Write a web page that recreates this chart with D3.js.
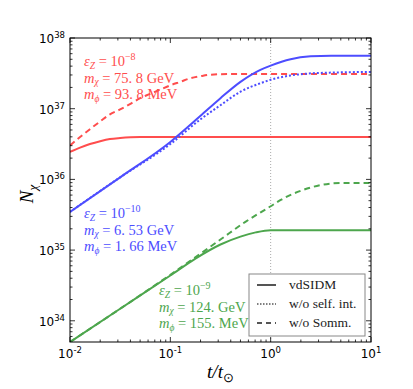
<!DOCTYPE html>
<html>
<head>
<meta charset="utf-8">
<script src="https://cdn.jsdelivr.net/npm/d3@7"></script>
<style>
  body { margin: 0; background: #fff; }
  svg { display: block; }
</style>
</head>
<body>
<div id="chart"></div>
<script>
// (t in units of t_sun, N_chi)
var redT      = [0.01, 0.0126, 0.0158, 0.02, 0.025, 0.0316, 0.04, 0.05, 0.1, 1, 10];
var redSolid  = [2.45e36, 2.82e36, 3.16e36, 3.47e36, 3.72e36, 3.85e36, 3.94e36, 3.98e36, 3.98e36, 3.98e36, 3.98e36];
var redDashT  = [0.01, 0.0126, 0.0158, 0.02, 0.025, 0.0316, 0.04, 0.05, 0.063, 0.079, 0.1, 0.126, 0.158, 0.2, 0.25, 0.4, 1, 10];
var redDash   = [3.02e36, 3.98e36, 5.13e36, 6.61e36, 8.32e36, 9.77e36, 1.17e37, 1.41e37, 1.62e37, 1.86e37, 2.14e37, 2.40e37, 2.69e37, 2.88e37, 3.02e37, 3.09e37, 3.09e37, 3.09e37];

var blueT      = [0.01, 0.0316, 0.1, 0.2, 0.316, 0.5, 0.79, 1, 1.58, 2.5, 4, 10];
var blueSolid  = [3.47e35, 1.07e36, 3.39e36, 7.94e36, 1.41e37, 2.40e37, 3.55e37, 4.07e37, 5.01e37, 5.50e37, 5.62e37, 5.62e37];
var blueDotted = [3.47e35, 1.07e36, 3.16e36, 7.08e36, 1.12e37, 1.74e37, 2.29e37, 2.57e37, 2.95e37, 3.16e37, 3.24e37, 3.31e37];

var greenT     = [0.01, 0.0316, 0.1, 0.178, 0.316, 0.5, 0.71, 1, 10];
var greenSolid = [5.01e33, 1.48e34, 4.37e34, 7.59e34, 1.20e35, 1.55e35, 1.78e35, 1.91e35, 1.91e35];
var greenDashT = [0.01, 0.0316, 0.1, 0.316, 0.56, 1, 1.26, 2, 3.16, 5, 10];
var greenDash  = [5.01e33, 1.48e34, 4.47e34, 1.41e35, 2.51e35, 4.17e35, 5.13e35, 6.92e35, 8.32e35, 8.91e35, 8.91e35];

var xTickExp = [-2, -1, 0, 1];
var yTickExp = [34, 35, 36, 37, 38];
var legendLabels = ["vdSIDM", "w/o self. int.", "w/o Somm."];

var w = 413, h = 389;
var pLeft = 70, pRight = 371, pTop = 38, pBottom = 342;

var red = "#ff4d4d", blue = "#4d4dff", green = "#4da64d";
var serif = "Liberation Serif, serif";

var svg = d3.select("#chart").append("svg")
    .attr("width", w)
    .attr("height", h);

var x = d3.scaleLog().domain([0.01, 10]).range([pLeft, pRight]);
var y = d3.scaleLog().domain([Math.pow(10, 33.7), 1e38]).range([pBottom, pTop]);

svg.append("defs").append("clipPath").attr("id", "clip")
  .append("rect").attr("x", pLeft).attr("y", pTop)
  .attr("width", pRight - pLeft).attr("height", pBottom - pTop);

// vertical line at t = t_sun
svg.append("line")
    .attr("x1", x(1)).attr("x2", x(1))
    .attr("y1", pTop).attr("y2", pBottom)
    .attr("stroke", "#aaa")
    .attr("stroke-width", 1)
    .attr("stroke-dasharray", "1,2");

var line = d3.line()
    .x(function(d) { return x(d[0]); })
    .y(function(d) { return y(d[1]); })
    .curve(d3.curveMonotoneX);

function drawSeries(ts, vals, color, dash) {
  svg.append("path")
    .datum(d3.zip(ts, vals))
    .attr("clip-path", "url(#clip)")
    .attr("fill", "none")
    .attr("stroke", color)
    .attr("stroke-width", 2)
    .attr("stroke-dasharray", dash)
    .attr("d", line);
}

drawSeries(redT, redSolid, red, null);
drawSeries(redDashT, redDash, red, "6,4");
drawSeries(blueT, blueDotted, blue, "2,2");
drawSeries(blueT, blueSolid, blue, null);
drawSeries(greenDashT, greenDash, green, "6,4");
drawSeries(greenT, greenSolid, green, null);

// ticks (inside, all four sides)
var xMajor = xTickExp.map(function(e) { return Math.pow(10, e); });
var xMinor = [];
for (var e = -2; e < 1; e++) for (var k = 2; k < 10; k++) xMinor.push(k * Math.pow(10, e));
var yMinor = [];
for (var e = 33; e < 38; e++) for (var k = 2; k < 10; k++) {
  var v = k * Math.pow(10, e);
  if (v > Math.pow(10, 33.7)) yMinor.push(v);
}

var ticks = svg.append("g").attr("stroke", "#000").attr("stroke-width", 0.8);
xMajor.forEach(function(v) {
  ticks.append("line").attr("x1", x(v)).attr("x2", x(v)).attr("y1", pBottom).attr("y2", pBottom - 5);
  ticks.append("line").attr("x1", x(v)).attr("x2", x(v)).attr("y1", pTop).attr("y2", pTop + 5);
});
xMinor.forEach(function(v) {
  ticks.append("line").attr("x1", x(v)).attr("x2", x(v)).attr("y1", pBottom).attr("y2", pBottom - 2.5);
  ticks.append("line").attr("x1", x(v)).attr("x2", x(v)).attr("y1", pTop).attr("y2", pTop + 2.5);
});
yTickExp.forEach(function(e) {
  var v = Math.pow(10, e);
  ticks.append("line").attr("y1", y(v)).attr("y2", y(v)).attr("x1", pLeft).attr("x2", pLeft + 5);
  ticks.append("line").attr("y1", y(v)).attr("y2", y(v)).attr("x1", pRight).attr("x2", pRight - 5);
});
yMinor.forEach(function(v) {
  ticks.append("line").attr("y1", y(v)).attr("y2", y(v)).attr("x1", pLeft).attr("x2", pLeft + 2.5);
  ticks.append("line").attr("y1", y(v)).attr("y2", y(v)).attr("x1", pRight).attr("x2", pRight - 2.5);
});

svg.append("rect")
    .attr("x", pLeft).attr("y", pTop)
    .attr("width", pRight - pLeft).attr("height", pBottom - pTop)
    .attr("fill", "none")
    .attr("stroke", "#000")
    .attr("stroke-width", 1);

// tick labels
yTickExp.forEach(function(e) {
  var t = svg.append("text")
      .attr("x", pLeft - 5)
      .attr("y", y(Math.pow(10, e)) + 5)
      .attr("text-anchor", "end")
      .style("font-family", "DejaVu Sans, sans-serif")
      .style("font-size", "12px");
  t.append("tspan").text("10");
  t.append("tspan").attr("dy", -5).style("font-size", "8.5px").text(e);
});
xTickExp.forEach(function(e) {
  var t = svg.append("text")
      .attr("x", x(Math.pow(10, e)))
      .attr("y", pBottom + 16)
      .attr("text-anchor", "middle")
      .style("font-family", "DejaVu Sans, sans-serif")
      .style("font-size", "12px");
  t.append("tspan").text("10");
  t.append("tspan").attr("dy", -5).style("font-size", "8.5px").text(e < 0 ? "-" + (-e) : e);
});

// axis labels
var yl = svg.append("text")
    .attr("transform", "translate(33," + ((pTop + pBottom) / 2 + 4) + ") rotate(-90)")
    .attr("text-anchor", "middle")
    .style("font-family", serif)
    .style("font-style", "italic")
    .style("font-size", "19px");
yl.append("tspan").text("N");
yl.append("tspan").attr("dy", 4).style("font-size", "13px").text("χ");

var xl = svg.append("text")
    .attr("x", (pLeft + pRight) / 2)
    .attr("y", 378)
    .attr("text-anchor", "middle")
    .style("font-family", serif)
    .style("font-style", "italic")
    .style("font-size", "19px");
xl.append("tspan").text("t/t");
xl.append("tspan").attr("dy", 4).style("font-size", "13px").style("font-style", "normal").text("⊙");

// parameter annotations
function paramBlock(x0, y0, color, eps, mchi, mphi) {
  var g = svg.append("g")
      .style("font-family", serif)
      .style("font-size", "14.5px")
      .attr("fill", color);
  var rows = [["ε", "Z", " = 10", eps], ["m", "χ", " = " + mchi + " GeV", null], ["m", "ϕ", " = " + mphi + " MeV", null]];
  rows.forEach(function(r, i) {
    var t = g.append("text").attr("x", x0).attr("y", y0 + i * 16.5);
    t.append("tspan").style("font-style", "italic").text(r[0]);
    t.append("tspan").attr("dy", 2.5).style("font-size", "9.5px").style("font-style", "italic").text(r[1]);
    t.append("tspan").attr("dy", -2.5).text(r[2]);
    if (r[3] !== null) t.append("tspan").attr("dy", -6).style("font-size", "10px").text(r[3]);
  });
}
paramBlock(84, 66, red, "−8", "75. 8", "93. 8");
paramBlock(84, 218, blue, "−10", "6. 53", "1. 66");
paramBlock(159, 295, green, "−9", "124.", "155.");

// legend
var lg = svg.append("g");
lg.append("rect")
    .attr("x", 249).attr("y", 274)
    .attr("width", 116).attr("height", 62)
    .attr("fill", "#fff")
    .attr("stroke", "#888")
    .attr("stroke-width", 1);
var dashes = [null, "1.5,1.5", "5,4"];
legendLabels.forEach(function(lab, i) {
  var yy = 285 + i * 19;
  lg.append("line")
      .attr("x1", 257).attr("x2", 276)
      .attr("y1", yy).attr("y2", yy)
      .attr("stroke", "#555")
      .attr("stroke-width", i == 1 ? 1.5 : 2)
      .attr("stroke-dasharray", dashes[i]);
  lg.append("text")
      .attr("x", 289).attr("y", yy + 4)
      .style("font-family", serif)
      .style("font-size", "13.5px")
      .attr("fill", "#222")
      .text(lab);
});
</script>
</body>
</html>
